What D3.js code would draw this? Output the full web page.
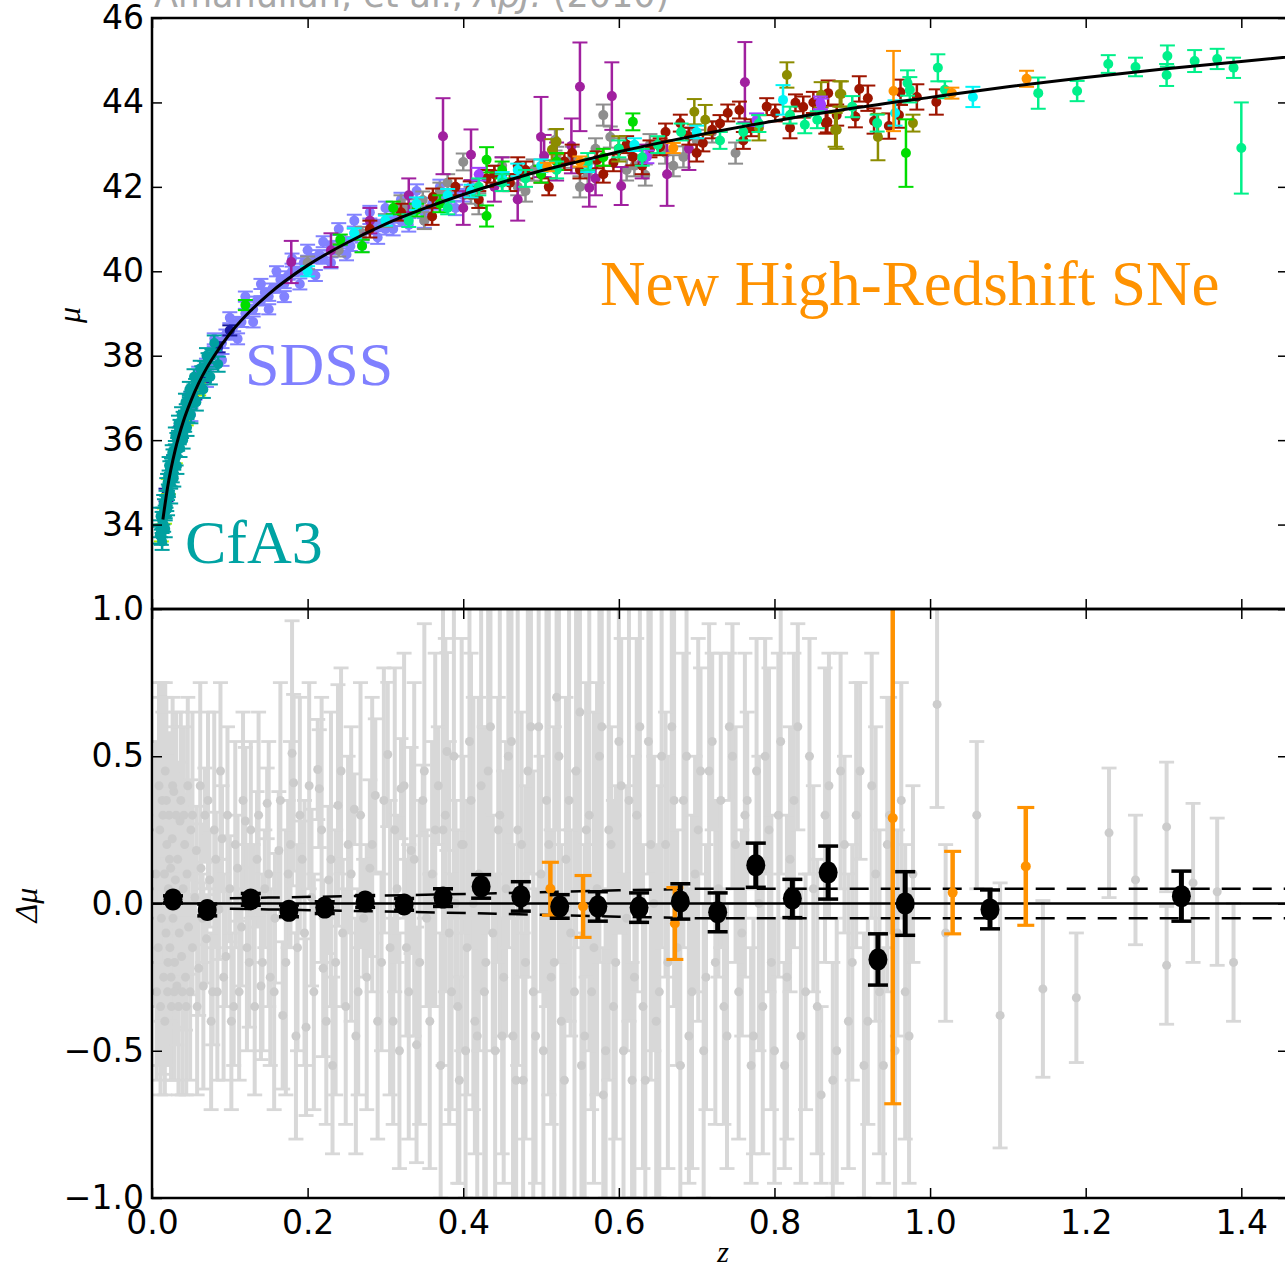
<!DOCTYPE html>
<html lang="en">
<head>
<meta charset="utf-8">
<script src="https://cdn.jsdelivr.net/npm/d3@7"></script>
<style>
  body { margin: 0; background: #fff; }
  svg { display: block; }
  .tick text { font-family: "DejaVu Sans", sans-serif; font-size: 33px; fill: #000; }
  .tick line { stroke: #000; stroke-width: 1.5; }
</style>
<title>Union2 Hubble diagram</title>
</head>
<body>
<svg id="plot" width="1285" height="1270"></svg>
<script>
// ---- data: [z, value, error] ----
// fitted distance modulus curve
const curveZ  = [0.014, 0.02, 0.03, 0.04, 0.05, 0.06, 0.07, 0.08, 0.1, 0.12, 0.15, 0.2, 0.25, 0.3, 0.35, 0.4, 0.45, 0.5, 0.55, 0.6, 0.7, 0.8, 0.9, 1.0, 1.1, 1.2, 1.3, 1.4, 1.5]
const curveMu = [34.12, 34.88, 35.78, 36.43, 36.93, 37.35, 37.70, 38.00, 38.52, 38.94, 39.46, 40.14, 40.67, 41.12, 41.49, 41.82, 42.11, 42.38, 42.61, 42.83, 43.22, 43.56, 43.86, 44.12, 44.37, 44.59, 44.79, 44.97, 45.15]

// top panel samples
const cfa3 = [[0.010,33.75,0.2],[0.011,33.9,0.2],[0.012,33.7,0.18],[0.013,34.1,0.2],[0.014,34.2,0.2],[0.015,34.0,0.17],[0.016,34.4,0.2],[0.017,34.3,0.15],[0.018,34.6,0.2],[0.019,34.5,0.18],[0.02,35.0,0.2],[0.021,34.8,0.15],[0.022,35.1,0.18],[0.023,35.3,0.2],[0.024,35.0,0.15],[0.025,35.4,0.17],[0.026,35.2,0.2],[0.027,35.6,0.18],[0.028,35.5,0.15],[0.03,35.8,0.18],[0.031,35.6,0.2],[0.032,36.0,0.17],[0.033,35.9,0.15],[0.035,36.1,0.2],[0.036,36.3,0.18],[0.038,36.2,0.15],[0.04,36.5,0.17],[0.042,36.4,0.2],[0.044,36.7,0.15],[0.046,36.6,0.18],[0.048,36.9,0.17],[0.05,37.0,0.15],[0.053,37.1,0.18],[0.056,37.3,0.15],[0.06,37.4,0.17],[0.064,37.6,0.15],[0.068,37.7,0.17],[0.072,37.9,0.16],[0.077,38.0,0.15],
  [0.011,34.2,0.2],[0.013,33.6,0.2],[0.015,34.5,0.2],[0.017,33.9,0.2],[0.019,34.9,0.2],[0.02,34.4,0.18],[0.022,35.4,0.2],[0.024,34.7,0.2],[0.026,35.7,0.18],[0.028,35.1,0.2],[0.03,36.1,0.2],[0.032,35.4,0.2],[0.034,36.4,0.18],[0.036,35.8,0.2],[0.038,36.6,0.18],[0.04,36.0,0.2],[0.043,36.9,0.2],[0.045,36.3,0.2],[0.048,37.2,0.18],[0.05,36.6,0.2],[0.054,37.5,0.18],[0.057,36.9,0.2],[0.062,37.7,0.18],[0.066,37.2,0.2],[0.07,38.0,0.18],[0.075,37.5,0.18],[0.08,38.3,0.18],[0.085,37.8,0.18]]
const lowzNavy = [[0.018,34.7,0.15],[0.028,35.5,0.14],[0.037,36.2,0.13],[0.055,37.1,0.12],[0.067,37.5,0.12],[0.085,38.2,0.12],[0.1,38.6,0.12]]
const lowzLime = [[0.012,33.8,0.2],[0.016,34.2,0.18],[0.021,34.9,0.18],[0.03,35.6,0.15],[0.044,36.5,0.15],[0.06,37.2,0.14]]
const sdss = [[0.045,36.7,0.15],[0.05,37.0,0.14],[0.055,37.1,0.15],[0.06,37.3,0.13],[0.065,37.5,0.14],[0.07,37.8,0.13],[0.075,37.8,0.12],[0.08,38.1,0.12],[0.085,38.1,0.13],[0.09,38.3,0.12],[0.095,38.5,0.12],[0.1,38.5,0.11],[0.105,38.7,0.12],[0.11,38.8,0.11],[0.115,38.8,0.12],[0.12,39.0,0.11],[0.125,39.1,0.1],[0.13,39.1,0.11],[0.135,39.3,0.1],[0.14,39.3,0.11],[0.145,39.5,0.1],[0.15,39.4,0.1],[0.155,39.6,0.11],[0.16,39.6,0.1],[0.165,39.8,0.11],[0.17,39.7,0.1],[0.175,39.9,0.1],[0.18,40.0,0.11],[0.19,40.0,0.1],[0.195,40.2,0.11],[0.2,40.1,0.1],[0.21,40.3,0.11],[0.215,40.4,0.1],[0.22,40.3,0.12],[0.23,40.6,0.11],[0.235,40.5,0.1],[0.24,40.6,0.12],[0.25,40.7,0.11],[0.255,40.6,0.12],[0.26,40.9,0.11],[0.27,40.8,0.12],[0.28,41.0,0.12],[0.29,41.1,0.12],[0.3,41.0,0.13],[0.31,41.3,0.12],[0.32,41.2,0.13],[0.33,41.4,0.13],[0.34,41.5,0.13],[0.35,41.4,0.14],[0.36,41.6,0.14],[0.37,41.7,0.14],[0.38,41.6,0.15],[0.39,41.9,0.15],[0.4,41.8,0.15],[0.41,42.0,0.15],
  [0.05,36.6,0.15],[0.06,37.6,0.14],[0.07,37.4,0.14],[0.08,38.4,0.13],[0.09,37.9,0.14],[0.1,38.9,0.13],[0.11,38.4,0.13],[0.12,39.4,0.12],[0.13,38.8,0.13],[0.14,39.7,0.12],[0.15,39.1,0.12],[0.16,40.0,0.12],[0.17,39.4,0.13],[0.18,40.3,0.12],[0.19,39.7,0.13],[0.2,40.5,0.13],[0.21,39.9,0.13],[0.22,40.7,0.13],[0.23,40.2,0.13],[0.24,41.0,0.14],[0.25,40.4,0.14],[0.26,41.2,0.14],[0.27,40.6,0.14],[0.28,41.4,0.15],[0.29,40.8,0.15],[0.3,41.5,0.15],[0.31,41.0,0.15],[0.32,41.7,0.16],[0.33,41.1,0.16],[0.34,41.9,0.16],[0.35,41.2,0.17],[0.37,42.0,0.17],[0.39,41.5,0.17]]
const greenSet = [[0.12,39.2,0.12],[0.242,40.75,0.12],[0.34,41.45,0.15],[0.43,42.64,0.3],[0.43,41.31,0.25],[0.5,42.3,0.2],[0.618,43.54,0.2],[0.969,42.8,0.8],[0.27,40.6,0.15],[0.31,41.5,0.15],[0.37,41.6,0.2],[0.45,42.4,0.2],[0.52,42.6,0.2],[0.58,42.7,0.2]]
const cyanSet = [[0.2,40.0,0.12],[0.3,41.2,0.12],[0.38,41.8,0.15],[0.45,42.2,0.15],[0.5,42.5,0.15],[0.811,44.06,0.35],[0.955,43.75,0.3],[1.055,44.13,0.24],[0.26,40.9,0.12],[0.34,41.6,0.15],[0.41,41.9,0.15],[0.47,42.4,0.15],[0.56,42.5,0.15],[0.62,43.0,0.15],[0.7,43.3,0.15]]
const springSet = [[0.45,42.1,0.2],[0.52,42.4,0.2],[0.6,42.9,0.2],[0.65,43.0,0.2],[0.73,43.1,0.2],[0.78,43.5,0.2],[0.839,43.47,0.2],[0.855,43.59,0.2],[0.932,43.51,0.2],[0.971,44.46,0.3],[0.974,44.3,0.3],[1.01,44.82,0.32],[1.019,44.3,0.2],[1.139,44.22,0.37],[1.189,44.27,0.24],[1.229,44.91,0.21],[1.264,44.84,0.22],[1.305,45.1,0.25],[1.304,44.65,0.26],[1.34,44.98,0.26],[1.369,45.03,0.24],[1.39,44.82,0.24],[1.4,42.92,1.08],
  [0.33,41.2,0.15],[0.38,41.5,0.15],[0.42,42.0,0.2],[0.48,42.2,0.2],[0.56,42.6,0.2],[0.63,42.7,0.2],[0.68,43.3,0.2],[0.76,43.3,0.2],[0.82,43.7,0.2],[0.9,43.9,0.25]]
const redSet = [[0.361,41.76,0.2],[0.409,41.93,0.2],[0.43,42.2,0.2],[0.46,42.1,0.2],[0.48,42.4,0.2],[0.5,42.3,0.2],[0.53,42.6,0.2],[0.55,42.4,0.2],[0.572,42.64,0.2],[0.593,42.57,0.2],[0.618,42.71,0.2],[0.64,42.9,0.2],[0.653,42.95,0.2],[0.679,43.51,0.2],[0.69,43.2,0.2],[0.708,43.04,0.2],[0.72,43.35,0.2],[0.74,43.75,0.2],[0.755,43.82,0.2],[0.77,43.4,0.2],[0.801,43.75,0.2],[0.827,43.99,0.2],[0.837,43.89,0.25],[0.866,43.51,0.25],[0.868,43.54,0.25],[0.869,44.22,0.3],[0.904,43.66,0.25],[0.909,44.32,0.3],[0.928,43.56,0.3],[0.947,43.44,0.3],[0.962,44.24,0.3],[0.983,44.13,0.3],[1.008,44.01,0.3],
  [0.28,41.0,0.2],[0.32,41.4,0.2],[0.36,41.3,0.2],[0.39,42.0,0.2],[0.42,41.7,0.2],[0.44,42.3,0.2],[0.47,42.5,0.2],[0.51,42.0,0.2],[0.54,42.8,0.2],[0.58,42.3,0.2],[0.61,43.0,0.2],[0.63,42.5,0.2],[0.66,43.3,0.2],[0.7,42.8,0.2],[0.73,43.5,0.2],[0.76,43.1,0.2],[0.79,43.9,0.2],[0.82,43.4,0.25],[0.85,44.0,0.25],[0.88,43.7,0.25],[0.92,44.1,0.3],[0.96,43.7,0.3]]
const oliveSet = [[0.514,42.88,0.25],[0.52,43.07,0.3],[0.6,42.9,0.3],[0.697,43.78,0.3],[0.711,43.59,0.35],[0.78,43.4,0.3],[0.816,44.65,0.3],[0.86,44.18,0.3],[0.878,43.35,0.4],[0.88,43.35,0.45],[0.884,44.2,0.3],[0.886,44.2,0.3],[0.933,43.18,0.55],[0.978,43.51,0.2]]
const greySet = [[0.2,40.2,0.15],[0.24,40.5,0.15],[0.27,40.9,0.15],[0.3,41.2,0.15],[0.33,41.5,0.2],[0.348,41.69,0.2],[0.37,41.9,0.2],[0.4,42.59,0.2],[0.41,41.8,0.2],[0.44,42.3,0.2],[0.47,42.0,0.2],[0.49,42.4,0.25],[0.518,43.11,0.25],[0.54,42.7,0.25],[0.56,42.3,0.25],[0.58,43.7,0.25],[0.589,43.18,0.25],[0.6,42.9,0.25],[0.62,42.5,0.25],[0.634,42.28,0.25],[0.66,42.8,0.25],[0.683,42.71,0.25],[0.7,43.1,0.25],
  [0.32,41.6,0.2],[0.35,41.2,0.2],[0.38,42.1,0.2],[0.42,41.6,0.25],[0.45,42.5,0.2],[0.48,41.9,0.25],[0.52,42.7,0.25],[0.55,42.0,0.25],[0.57,42.9,0.25],[0.61,42.4,0.25],[0.64,43.0,0.25],[0.67,42.5,0.25],[0.72,43.3,0.25],[0.75,42.8,0.25]]
const purpleSet = [[0.179,40.22,0.5],[0.23,40.5,0.4],[0.33,41.8,0.4],[0.374,43.2,0.9],[0.41,42.76,0.6],[0.45,42.3,0.4],[0.47,41.7,0.5],[0.5,43.18,0.95],[0.504,42.73,0.5],[0.539,42.97,0.65],[0.55,44.37,1.05],[0.562,41.98,0.45],[0.591,44.15,0.8],[0.603,42.02,0.45],[0.662,42.3,0.75],[0.762,44.48,0.95],
  [0.28,41.2,0.3],[0.4,41.5,0.4],[0.44,42.0,0.35],[0.52,42.6,0.45],[0.57,42.2,0.4],[0.63,42.6,0.4],[0.69,42.9,0.5]]
const violetSet = [[0.42,42.3,0.15],[0.636,42.71,0.15],[0.777,43.59,0.15],[0.859,43.99,0.15],[0.86,43.94,0.15]]
const newHighZ = [[0.508,42.47,0.1],[0.55,42.6,0.12],[0.67,42.92,0.12],[0.953,44.27,0.95],[1.028,44.22,0.13],[1.124,44.56,0.19]]

// bottom panel: residuals of all SNe
const greyResid = [[0.005,0.10,0.45],[0.008,-0.15,0.40],[0.010,0.25,0.45],[0.012,-0.05,0.35],[0.013,0.35,0.40],[0.015,-0.25,0.33],[0.016,0.10,0.30],[0.017,0.45,0.30],[0.018,-0.10,0.28],[0.019,0.20,0.30],[0.020,-0.30,0.25],[0.021,0.05,0.25],[0.022,0.30,0.28],[0.023,-0.15,0.25],[0.024,0.12,0.22],[0.025,-0.35,0.25],[0.026,0.22,0.22],[0.027,-0.05,0.20],[0.028,0.38,0.22],[0.029,-0.20,0.22],[0.030,0.08,0.20],[0.032,-0.28,0.20],[0.033,0.15,0.20],[0.035,-0.10,0.18],[0.036,0.28,0.20],[0.038,-0.18,0.18],[0.040,0.05,0.18],[0.042,0.20,0.17],[0.043,-0.25,0.18],[0.045,0.10,0.17],[0.047,-0.08,0.16],[0.050,0.25,0.17],[0.052,-0.15,0.16],[0.055,0.02,0.16],[0.057,0.18,0.15],[0.060,-0.22,0.16],[0.063,0.12,0.15],[0.065,-0.05,0.15],[0.068,0.30,0.16],[0.070,-0.12,0.15],[0.074,0.08,0.16],[0.078,-0.30,0.18],[0.082,0.15,0.16],[0.086,-0.02,0.17],[0.090,0.22,0.18],[0.095,-0.18,0.17],[0.100,0.05,0.18],[0.105,-0.35,0.20],[0.110,0.12,0.18],[0.115,-0.08,0.20],[0.120,0.28,0.25],[0.125,-0.20,0.22],[0.130,0.00,0.20],[0.135,0.15,0.23],[0.140,-0.28,0.25],
  [0.006,-0.3,0.3],[0.009,0.4,0.35],[0.011,-0.35,0.3],[0.014,0.3,0.35],[0.0165,-0.4,0.25],[0.0185,0.35,0.35],[0.0205,-0.2,0.35],[0.0225,0.15,0.4],[0.0245,-0.25,0.35],[0.0265,0.4,0.3],[0.0285,-0.3,0.3],[0.031,0.3,0.35],[0.034,-0.35,0.3],[0.037,0.35,0.3],[0.039,-0.3,0.35],[0.041,0.3,0.3],[0.044,-0.35,0.3],[0.046,0.4,0.3],[0.049,-0.3,0.3],
  [0.052,0.3,0.35],[0.058,-0.35,0.3],[0.062,0.4,0.35],[0.066,-0.28,0.35],[0.072,0.35,0.3],[0.076,-0.4,0.3],[0.08,0.25,0.4],[0.084,-0.3,0.3],[0.088,0.45,0.3],[0.092,-0.25,0.35],[0.097,0.3,0.3],[0.102,-0.4,0.3],[0.107,0.2,0.35],[0.112,-0.3,0.3],[0.117,0.35,0.3],[0.122,-0.15,0.35],[0.127,0.25,0.3],[0.132,-0.35,0.3],[0.137,0.3,0.35],[0.142,-0.2,0.3],
  [0.145,0.05,0.2],[0.148,0.34,0.12],[0.152,-0.25,0.3],[0.158,-0.05,0.22],[0.163,0.18,0.2],[0.168,-0.38,0.25],[0.175,0.10,0.25],[0.18,0.51,0.45],[0.182,0.41,0.3],[0.187,-0.15,0.35],[0.193,0.15,0.13],[0.198,-0.42,0.3],[0.205,0.02,0.3],[0.213,0.455,0.17],[0.215,0.39,0.2],[0.22,-0.22,0.3],[0.227,0.08,0.25],[0.232,-0.55,0.3],[0.239,0.333,0.41],[0.245,-0.1,0.25],[0.252,0.2,0.3],[0.26,0.32,0.12],[0.265,-0.3,0.35],[0.272,-0.05,0.2],[0.28,0.12,0.3],[0.287,0.367,0.26],[0.295,-0.2,0.3],[0.303,0.506,0.245],[0.31,-0.4,0.35],[0.315,0.05,0.25],[0.32,0.39,0.17],[0.327,-0.15,0.3],[0.333,0.18,0.35],[0.34,-0.48,0.4],[0.348,0.35,0.12],[0.353,-0.05,0.3],[0.36,0.1,0.45],[0.368,0.40,0.2],[0.374,0.25,0.8],[0.379,0.516,0.336],[0.385,-0.3,0.4],[0.39,0.0,0.35],[0.395,-0.6,0.35],[0.40,0.2,0.3],[0.405,-0.15,0.5],[0.41,0.35,0.5],[0.415,-0.4,0.45],[0.42,0.1,0.6],[0.427,-0.3,0.9],[0.432,0.45,0.55],[0.438,-0.1,0.4],[0.445,0.25,0.45],[0.45,-0.45,0.4],
  [0.15,0.1,0.45],[0.157,-0.3,0.4],[0.165,0.35,0.4],[0.172,-0.2,0.45],[0.178,0.2,0.35],[0.185,-0.45,0.35],[0.19,0.3,0.4],[0.196,-0.1,0.45],[0.202,0.4,0.35],[0.208,-0.3,0.4],[0.218,0.25,0.45],[0.224,-0.4,0.35],[0.23,0.15,0.5],[0.236,-0.2,0.45],[0.243,0.45,0.35],[0.249,-0.35,0.4],[0.256,0.1,0.5],[0.262,-0.45,0.4],[0.268,0.3,0.45],[0.276,-0.25,0.45],[0.283,0.2,0.5],[0.29,-0.4,0.4],[0.298,0.35,0.45],[0.306,-0.15,0.5],[0.312,0.25,0.55],[0.318,-0.5,0.4],[0.324,0.4,0.45],[0.33,-0.3,0.5],[0.337,0.15,0.6],[0.344,-0.2,0.55],[0.35,0.45,0.5],[0.357,-0.4,0.5],[0.364,0.25,0.6],[0.371,-0.55,0.45],[0.377,0.3,0.6],[0.382,-0.1,0.65],[0.388,0.5,0.55],[0.393,-0.35,0.6],[0.398,0.2,0.7],[0.403,-0.5,0.5],[0.408,0.55,0.6],[0.413,0.0,0.7],[0.418,-0.45,0.55],[0.423,0.4,0.7],[0.429,-0.2,0.8],[0.435,0.6,0.55],[0.441,-0.5,0.6],[0.447,0.3,0.75],
  [0.455,0.05,0.5],[0.462,0.55,0.6],[0.468,-0.6,0.55],[0.475,0.2,0.45],[0.48,-0.2,0.6],[0.487,0.6,0.5],[0.493,-0.45,0.5],[0.50,0.1,0.4],[0.507,0.35,0.7],[0.513,-0.25,0.5],[0.52,0.7,0.45],[0.526,-0.4,0.6],[0.532,0.15,0.55],[0.538,-0.1,0.35],[0.545,0.45,0.6],[0.552,-0.55,0.45],[0.558,0.25,0.5],[0.565,-0.3,0.4],[0.572,0.05,0.7],[0.578,0.6,0.55],[0.583,-0.5,0.5],[0.59,0.2,0.4],[0.596,-0.2,0.6],[0.603,0.4,0.5],[0.61,-0.05,0.45],[0.617,-0.6,0.4],[0.623,0.3,0.6],[0.631,-0.35,0.55],[0.638,0.55,0.45],[0.645,0.0,0.5],[0.652,-0.3,0.7],[0.66,0.2,0.45],[0.668,0.6,0.6],[0.675,-0.15,0.4],[0.683,0.35,0.5],[0.69,-0.45,0.5],[0.698,0.1,0.4],[0.705,0.45,0.35],[0.712,-0.25,0.45],[0.72,0.55,0.3],[0.728,0.05,0.3],[0.735,-0.35,0.4],[0.742,0.6,0.25],[0.75,0.2,0.4],[0.758,-0.1,0.35],[0.765,0.35,0.3],[0.773,-0.45,0.4],[0.78,0.0,0.5],[0.788,0.5,0.4],[0.796,-0.2,0.5],[0.805,0.3,0.55],[0.813,-0.55,0.35],[0.82,0.15,0.45],[0.83,0.6,0.35],[0.84,-0.3,0.4],[0.85,0.05,0.35],[0.86,-0.65,0.3],[0.87,0.4,0.45],[0.88,-0.5,0.45],[0.89,0.2,0.3],[0.90,-0.2,0.4],[0.91,0.45,0.3],[0.92,-0.4,0.35],[0.93,0.1,0.5],[0.94,-0.55,0.4],[0.948,0.3,0.4],[0.958,-0.1,0.35],[0.968,-0.3,0.5],[0.978,0.1,0.3],
  [0.452,-0.25,0.7],[0.458,0.5,0.65],[0.464,-0.45,0.65],[0.47,0.25,0.8],[0.477,-0.6,0.5],[0.483,0.45,0.7],[0.49,-0.3,0.75],[0.497,0.6,0.6],[0.503,-0.5,0.6],[0.51,0.2,0.85],[0.517,-0.2,0.8],[0.523,0.5,0.7],[0.53,-0.6,0.55],[0.536,0.35,0.75],[0.543,-0.3,0.75],[0.55,0.65,0.6],[0.556,-0.45,0.65],[0.562,0.3,0.8],[0.568,-0.15,0.8],[0.575,0.5,0.7],[0.58,-0.65,0.5],[0.587,0.25,0.85],[0.593,-0.35,0.7],[0.6,0.55,0.65],[0.606,-0.5,0.6],[0.613,0.35,0.75],[0.62,-0.25,0.75],[0.627,0.6,0.6],[0.634,-0.6,0.55],[0.641,0.2,0.8],[0.648,-0.4,0.6],[0.655,0.5,0.65],[0.663,-0.2,0.7],[0.671,0.35,0.7],[0.679,-0.55,0.5],[0.687,0.5,0.55],[0.694,-0.3,0.6],[0.702,0.25,0.65],[0.709,-0.5,0.5],[0.716,0.45,0.5],[0.724,-0.2,0.55],[0.731,0.35,0.5],[0.739,-0.45,0.45],[0.746,0.5,0.45],[0.754,-0.3,0.5],[0.762,0.3,0.55],[0.77,-0.55,0.4],[0.777,0.45,0.45],[0.785,-0.35,0.5],[0.793,0.25,0.55],[0.8,-0.5,0.45],[0.808,0.55,0.45],[0.816,-0.25,0.55],[0.825,0.35,0.5],[0.834,-0.45,0.5],[0.845,0.5,0.4],[0.855,-0.35,0.5],[0.865,0.3,0.5],[0.875,-0.6,0.4],[0.885,0.45,0.4],[0.895,-0.4,0.5],[0.905,0.3,0.45],[0.915,-0.55,0.45],[0.925,0.4,0.45],[0.935,-0.3,0.55],[0.945,0.2,0.5],[0.955,-0.5,0.55],[0.963,0.35,0.4],[0.973,-0.45,0.5],
  [1.009,0.676,0.35],[1.02,-0.1,0.3],[1.06,0.3,0.25],[1.09,-0.38,0.45],[1.145,-0.29,0.3],[1.188,-0.32,0.22],[1.23,0.24,0.22],[1.264,0.08,0.22],[1.304,0.26,0.22],[1.304,-0.21,0.2],[1.338,0.07,0.27],[1.369,0.04,0.25],[1.39,-0.2,0.2]]
const orangeResid = [[0.512,0.05,0.09],[0.554,-0.01,0.105],[0.672,-0.068,0.122],[0.952,0.29,0.97],[1.029,0.037,0.14],[1.123,0.126,0.2]]
const binnedResid = [[0.027,0.014,0.012],[0.071,-0.022,0.02],[0.127,0.014,0.02],[0.176,-0.025,0.02],[0.222,-0.014,0.02],[0.274,0.007,0.02],[0.324,-0.003,0.02],[0.374,0.02,0.03],[0.423,0.058,0.04],[0.474,0.024,0.05],[0.524,-0.01,0.04],[0.573,-0.01,0.05],[0.626,-0.014,0.05],[0.679,0.007,0.06],[0.727,-0.03,0.066],[0.776,0.13,0.075],[0.823,0.017,0.065],[0.869,0.105,0.09],[0.933,-0.19,0.087],[0.968,0.0,0.108],[1.077,-0.02,0.066],[1.323,0.025,0.085]]
// systematic envelope (dashed)
const envZ = [0.1, 0.15, 0.3, 0.45, 0.6, 0.7, 1.5]
const envV = [0.018, 0.02, 0.027, 0.035, 0.045, 0.05, 0.05]

const xTicks = [0, 0.2, 0.4, 0.6, 0.8, 1.0, 1.2, 1.4]
const muTicks = [32, 34, 36, 38, 40, 42, 44, 46]
const dTicks = [-1, -0.5, 0, 0.5, 1]

let svg = d3.select("#plot")

let x = d3.scaleLinear().domain([0, 1.46]).range([152, 1288])
let yTop = d3.scaleLinear().domain([32, 46]).range([609, 18])
let yBot = d3.scaleLinear().domain([-1, 1]).range([1198, 609])

let defs = svg.append("defs")
defs.append("clipPath").attr("id", "clipTop").append("rect")
    .attr("x", 152).attr("y", 18).attr("width", 1136).attr("height", 591)
defs.append("clipPath").attr("id", "clipBot").append("rect")
    .attr("x", 152).attr("y", 609).attr("width", 1136).attr("height", 589)

// error bar helper
function errorBars(g, data, yScale, color, lw, cap, r, dotColor) {
    let grp = g.append("g")
    grp.selectAll("line.bar").data(data).enter().append("line")
        .attr("x1", d => x(d[0])).attr("x2", d => x(d[0]))
        .attr("y1", d => yScale(d[1] - d[2])).attr("y2", d => yScale(d[1] + d[2]))
        .attr("stroke", color).attr("stroke-width", lw)
    let caps = data.flatMap(d => [[d[0], d[1] + d[2]], [d[0], d[1] - d[2]]])
    grp.selectAll("line.cap").data(caps).enter().append("line")
        .attr("x1", d => x(d[0]) - cap / 2).attr("x2", d => x(d[0]) + cap / 2)
        .attr("y1", d => yScale(d[1])).attr("y2", d => yScale(d[1]))
        .attr("stroke", color).attr("stroke-width", Math.max(2, lw * 0.7))
    grp.selectAll("circle").data(data).enter().append("circle")
        .attr("cx", d => x(d[0])).attr("cy", d => yScale(d[1])).attr("r", r)
        .attr("fill", dotColor || color)
    return grp
}

// ---- top panel ----
let topPanel = svg.append("g").attr("clip-path", "url(#clipTop)")
const topSamples = [
    { data: sdss, color: "#8282ff" },
    { data: greySet, color: "#8e8e8e" },
    { data: purpleSet, color: "#a0209f" },
    { data: redSet, color: "#9e1500" },
    { data: oliveSet, color: "#8c8c00" },
    { data: greenSet, color: "#00dd00" },
    { data: cyanSet, color: "#00f5f5" },
    { data: violetSet, color: "#a040ff" },
    { data: springSet, color: "#00f08a" },
    { data: newHighZ, color: "#ff9200" },
    { data: lowzNavy, color: "#1a1aa0" },
    { data: lowzLime, color: "#a6f000" },
    { data: cfa3, color: "#00a0a0" }
]
topSamples.forEach(s => errorBars(topPanel, s.data, yTop, s.color, 2.5, 15, 5))

topPanel.append("path")
    .datum(d3.zip(curveZ, curveMu))
    .attr("fill", "none").attr("stroke", "#000").attr("stroke-width", 3)
    .attr("d", d3.line().curve(d3.curveMonotoneX)
        .x(d => x(d[0])).y(d => yTop(d[1])))

// ---- bottom panel ----
let botPanel = svg.append("g").attr("clip-path", "url(#clipBot)")
errorBars(botPanel, greyResid, yBot, "#d8d8d8", 4, 15, 4.5, "#cccccc")

botPanel.append("line")
    .attr("x1", x(0)).attr("x2", x(1.46)).attr("y1", yBot(0)).attr("y2", yBot(0))
    .attr("stroke", "#000").attr("stroke-width", 2.5)
;[1, -1].forEach(sign => {
    botPanel.append("path")
        .datum(d3.zip(envZ, envV))
        .attr("fill", "none").attr("stroke", "#000").attr("stroke-width", 2.5)
        .attr("stroke-dasharray", "19,12")
        .attr("d", d3.line().x(d => x(d[0])).y(d => yBot(sign * d[1])))
})

errorBars(botPanel, orangeResid, yBot, "#ff9200", 4.5, 17, 5)

let blk = errorBars(botPanel, binnedResid, yBot, "#000", 5, 20, 0)
blk.selectAll("ellipse").data(binnedResid).enter().append("ellipse")
    .attr("cx", d => x(d[0])).attr("cy", d => yBot(d[1]))
    .attr("rx", 9.5).attr("ry", 11).attr("fill", "#000")

// ---- axes (inward ticks on every side) ----
function addAxis(axis, tx, ty) {
    let g = svg.append("g").attr("transform", `translate(${tx},${ty})`).call(axis)
    g.select(".domain").remove()
    return g
}
let fmt1 = d3.format(".1f")

addAxis(d3.axisTop(x).tickValues(xTicks).tickSize(-10).tickFormat(""), 0, 18)
addAxis(d3.axisBottom(x).tickValues(xTicks).tickSize(-10).tickFormat(""), 0, 609)
addAxis(d3.axisLeft(yTop).tickValues(muTicks.slice(1)).tickSize(-10).tickPadding(8), 152, 0)
addAxis(d3.axisRight(yTop).tickValues(muTicks).tickSize(-10).tickFormat(""), 1288, 0)

addAxis(d3.axisTop(x).tickValues(xTicks).tickSize(-10).tickFormat(""), 0, 609)
addAxis(d3.axisBottom(x).tickValues(xTicks).tickSize(-10).tickPadding(13).tickFormat(fmt1), 0, 1198)
addAxis(d3.axisLeft(yBot).tickValues(dTicks).tickSize(-10).tickPadding(8).tickFormat(fmt1), 152, 0)
addAxis(d3.axisRight(yBot).tickValues(dTicks).tickSize(-10).tickFormat(""), 1288, 0)

// spines
svg.append("rect").attr("x", 152).attr("y", 18).attr("width", 1136).attr("height", 591)
    .attr("fill", "none").attr("stroke", "#000").attr("stroke-width", 2.5)
svg.append("rect").attr("x", 152).attr("y", 609).attr("width", 1136).attr("height", 589)
    .attr("fill", "none").attr("stroke", "#000").attr("stroke-width", 2.5)

// ---- labels ----
const serif = "'Liberation Serif', 'Times New Roman', serif"
svg.append("text").text("CfA3").attr("x", 185).attr("y", 563)
    .style("font-family", serif).style("font-size", "62px").attr("fill", "#00a3a3")
svg.append("text").text("SDSS").attr("x", 245).attr("y", 385)
    .style("font-family", serif).style("font-size", "62px").attr("fill", "#8080ff")
svg.append("text").text("New High-Redshift SNe").attr("x", 600).attr("y", 305)
    .style("font-family", serif).style("font-size", "63px").attr("fill", "#ff9200")

let title = svg.append("text").attr("x", 154).attr("y", 7)
    .style("font-family", "'DejaVu Sans', sans-serif").style("font-size", "35px").attr("fill", "#a8a8a8")
title.append("tspan").text("Amanullah, et al., ")
title.append("tspan").text("ApJ.").style("font-style", "italic")
title.append("tspan").text(" (2010)")

svg.append("text").text("μ")
    .attr("transform", "translate(80,315) rotate(-90)")
    .attr("text-anchor", "middle")
    .style("font-family", serif).style("font-style", "italic").style("font-size", "32px")

svg.append("text").text("Δμ")
    .attr("transform", "translate(37,905) rotate(-90)")
    .attr("text-anchor", "middle")
    .style("font-family", serif).style("font-style", "italic").style("font-size", "32px")

svg.append("text").text("z").attr("x", 723).attr("y", 1262)
    .attr("text-anchor", "middle")
    .style("font-family", serif).style("font-style", "italic").style("font-size", "30px")
</script>
</body>
</html>
